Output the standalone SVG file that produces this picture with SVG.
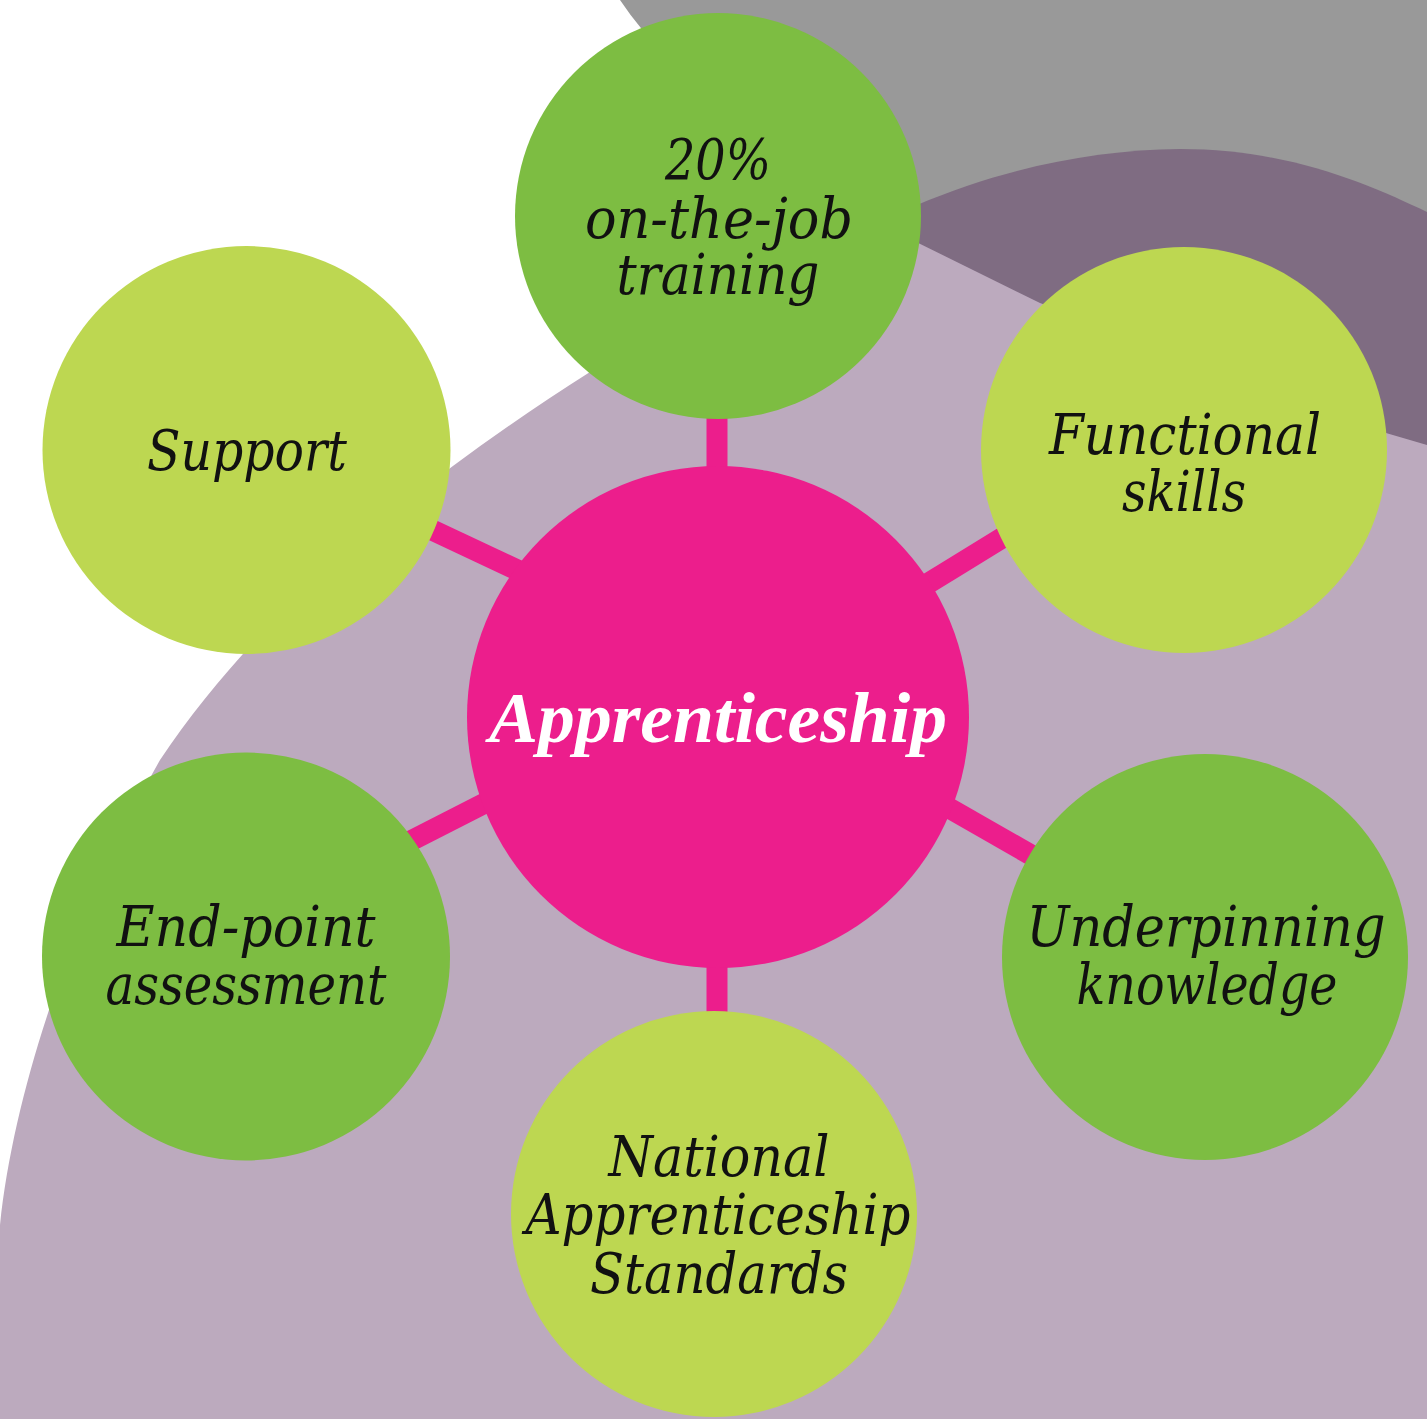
<svg xmlns="http://www.w3.org/2000/svg" width="1427" height="1419" viewBox="0 0 1427 1419">
<style>
.dg{fill:#7dbd42}
.lg{fill:#bdd751}
.hub{fill:#ec1e8c}
.lbl{font-family:"DejaVu Serif","Liberation Serif",serif;font-style:italic;font-size:56px;fill:#111;text-anchor:middle}
.hubt{font-family:"Liberation Serif","DejaVu Serif",serif;font-style:italic;font-weight:bold;font-size:72px;fill:#fff;text-anchor:middle}
.con line{stroke:#ec1e8c;stroke-width:21}
</style>
<rect width="1427" height="1419" fill="#fff"/>
<g id="background">
<path d="M620,0 Q640,30 670,60 L718,300 L1427,300 L1427,0 Z" fill="#999999"/>
<path d="M760,300 C880,200 1040,150 1180,149 C1290,149 1370,185 1427,212 L1427,520 L760,520 Z" fill="#7f6c82"/>
<path d="M0,1419 L0,1225 C15,1080 80,900 160,760 C260,610 420,480 590,372 L640,340 L900,234 L1040,303 Q1250,380 1386,433 L1427,445 L1427,1419 Z" fill="#bcaabe"/>
</g>
<g id="connectors" class="con">
<line x1="717" y1="400" x2="717" y2="480"/>
<line x1="717" y1="950" x2="717" y2="1030"/>
<line x1="330" y1="482" x2="600" y2="609"/>
<line x1="1080" y1="490" x2="880" y2="613"/>
<line x1="530" y1="780" x2="340" y2="877"/>
<line x1="900" y1="780" x2="1080" y2="883"/>
</g>
<g id="node-training">
<circle class="dg" cx="718" cy="216" r="203"/>
<text class="lbl" x="718" y="179" textLength="106" lengthAdjust="spacingAndGlyphs">20%</text>
<text class="lbl" x="719" y="238" textLength="268" lengthAdjust="spacingAndGlyphs">on-the-job</text>
<text class="lbl" x="718" y="294" textLength="203" lengthAdjust="spacingAndGlyphs">training</text>
</g>
<g id="node-support">
<circle class="lg" cx="246.5" cy="450" r="204"/>
<text class="lbl" x="247" y="470" textLength="200" lengthAdjust="spacingAndGlyphs">Support</text>
</g>
<g id="node-functional">
<circle class="lg" cx="1184" cy="450" r="203"/>
<text class="lbl" x="1185" y="454" textLength="272" lengthAdjust="spacingAndGlyphs">Functional</text>
<text class="lbl" x="1184" y="511" textLength="124" lengthAdjust="spacingAndGlyphs">skills</text>
</g>
<g id="node-endpoint">
<circle class="dg" cx="246" cy="956.5" r="204"/>
<text class="lbl" x="246" y="946" textLength="259" lengthAdjust="spacingAndGlyphs">End-point</text>
<text class="lbl" x="246" y="1004" textLength="281" lengthAdjust="spacingAndGlyphs">assessment</text>
</g>
<g id="node-underpinning">
<circle class="dg" cx="1205" cy="957" r="203"/>
<text class="lbl" x="1206" y="946" textLength="359" lengthAdjust="spacingAndGlyphs">Underpinning</text>
<text class="lbl" x="1207" y="1004" textLength="261" lengthAdjust="spacingAndGlyphs">knowledge</text>
</g>
<g id="node-standards">
<circle class="lg" cx="714" cy="1214" r="203"/>
<text class="lbl" x="719" y="1176" textLength="221" lengthAdjust="spacingAndGlyphs">National</text>
<text class="lbl" x="718" y="1234" textLength="385" lengthAdjust="spacingAndGlyphs">Apprenticeship</text>
<text class="lbl" x="719" y="1293" textLength="258" lengthAdjust="spacingAndGlyphs">Standards</text>
</g>
<g id="node-apprenticeship">
<circle class="hub" cx="718" cy="717" r="251"/>
<text class="hubt" x="718" y="742" textLength="458" lengthAdjust="spacingAndGlyphs">Apprenticeship</text>
</g>
</svg>
